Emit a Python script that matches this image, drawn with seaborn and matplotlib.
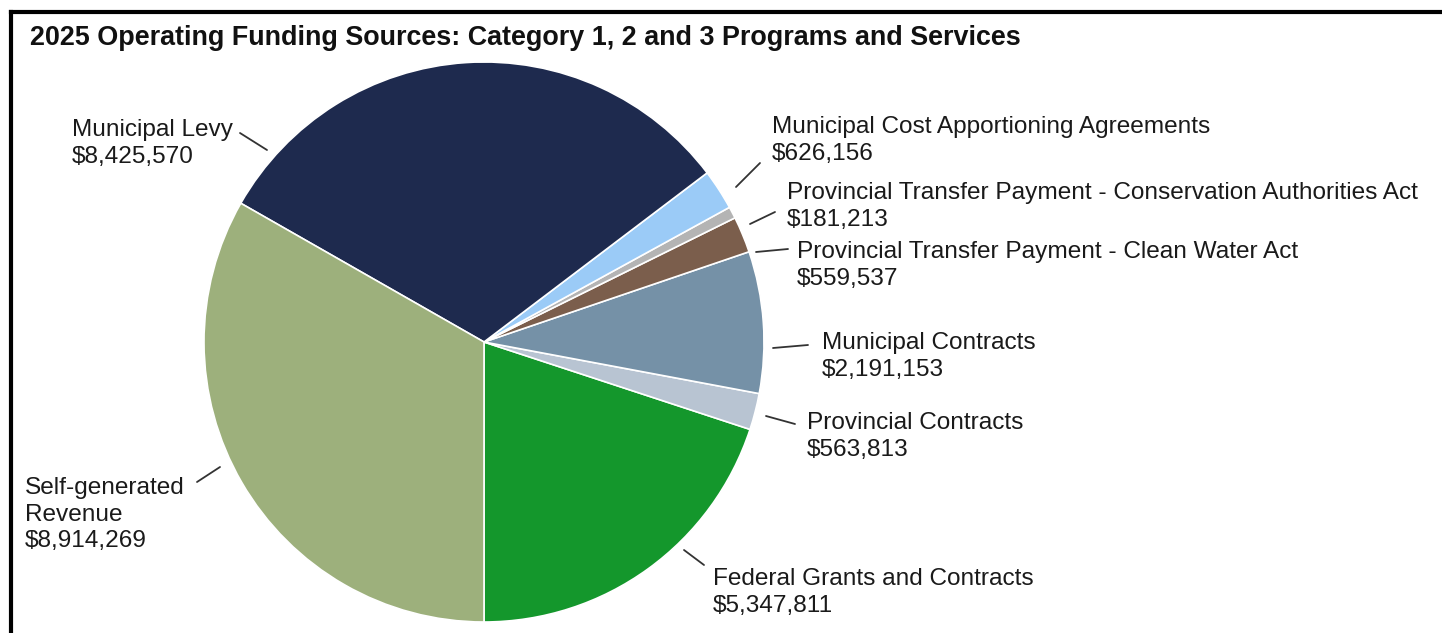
import matplotlib
matplotlib.use("Agg")
import matplotlib.pyplot as plt
import seaborn as sns

# data (counterclockwise from 6 o'clock)
labels = ['Federal Grants and Contracts', 'Provincial Contracts', 'Municipal Contracts',
          'Provincial Transfer Payment - Clean Water Act',
          'Provincial Transfer Payment - Conservation Authorities Act',
          'Municipal Cost Apportioning Agreements', 'Municipal Levy', 'Self-generated\nRevenue']
values = [5347811, 563813, 2191153, 559537, 181213, 626156, 8425570, 8914269]
colors = ['#14972C', '#B8C4D2', '#7591A7', '#7B5E4C', '#B4B4B4', '#9BCBF7', '#1E2A4E', '#9DB07C']

# label layout in pixels (x left, y of first line from top) and leader lines
text_pos = [(713, 577), (807, 421), (822, 341), (797, 250), (787, 191), (772, 125), (72, 128), (25, 486)]
leaders = [((684, 550), (704, 565)), ((795, 424), (766, 416)), ((808, 345), (773, 348)),
           ((788, 249), (756, 252)), ((775, 212), (750, 224)), ((760, 163), (736, 187)),
           ((240, 133), (267, 150)), ((220, 467), (197, 482))]

W, H = 1442, 633
sns.set_theme(style="white")
plt.rcParams['font.family'] = ['Liberation Sans', 'DejaVu Sans']

fig = plt.figure(figsize=(W / 100, H / 100), dpi=100)
ax = fig.add_axes([0, 0, 1, 1])

ax.pie(values, colors=colors, startangle=270, counterclock=True,
       center=(484, H - 342), radius=280,
       wedgeprops=dict(edgecolor='white', linewidth=1.2))
ax.set_xlim(0, W)
ax.set_ylim(0, H)
ax.set_aspect('equal')
ax.axis('off')

for lab, val, (tx, ty), (p1, p2) in zip(labels, values, text_pos, leaders):
    ax.text(tx, H - ty + 9, f"{lab}\n${val:,.0f}", fontsize=17.6, color='#1a1a1a',
            ha='left', va='top', linespacing=1.27)
    ax.plot([p1[0], p2[0]], [H - p1[1], H - p2[1]], color='#333333', lw=1.3)

ax.text(30, H - 38, '2025 Operating Funding Sources: Category 1, 2 and 3 Programs and Services',
        fontsize=19.4, fontweight='bold', ha='left', va='center', color='#111111')

# frame
ax.plot([11, 11], [0, H - 12], color='black', lw=3, solid_capstyle='projecting')
ax.plot([11, W], [H - 12, H - 12], color='black', lw=3, solid_capstyle='projecting')

fig.savefig('out.png', dpi=100)
